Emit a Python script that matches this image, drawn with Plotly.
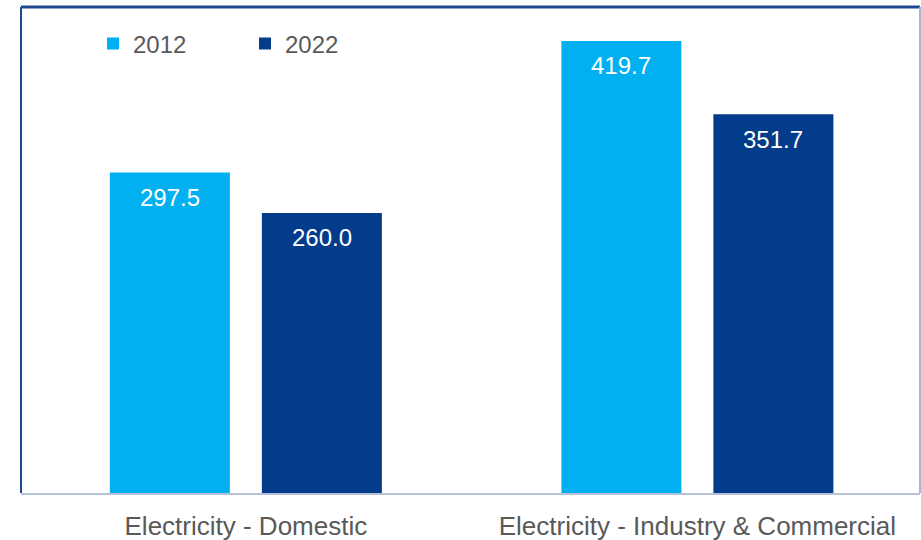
import plotly.graph_objects as go

categories = ["Electricity - Domestic", "Electricity - Industry & Commercial"]
years = ["2012", "2022"]
values_2012 = [297.5, 419.7]
values_2022 = [260.0, 351.7]

colors = {"2012": "#00B0F0", "2022": "#033C8A"}
series = {"2012": values_2012, "2022": values_2022}

fig = go.Figure()
for yr in years:
    fig.add_trace(go.Bar(
        name=yr, x=categories, y=series[yr],
        marker=dict(color=colors[yr], line=dict(width=0)),
    ))

# data labels (white, inside near top of each bar)
annotations = []
n = len(years)
for i, yr in enumerate(years):
    for j, cat in enumerate(categories):
        v = series[yr][j]
        annotations.append(dict(
            x=cat, y=v, xref="x", yref="y", text=f"{v:.1f}",
            showarrow=False, yanchor="middle", yshift=-25,
            xshift=(i - (n - 1) / 2) * 152,
            font=dict(family="Liberation Sans, Arial", size=24, color="white"),
        ))

shapes = [
    dict(type="line", xref="paper", yref="paper", x0=0, x1=0, y0=0, y1=1,
         line=dict(color="#1F4A92", width=2)),
    dict(type="line", xref="paper", yref="paper", x0=0, x1=1, y0=1, y1=1,
         line=dict(color="#1F4A92", width=3)),
    dict(type="line", xref="paper", yref="paper", x0=1, x1=1, y0=0, y1=1,
         line=dict(color="#A3B6D6", width=2)),
]

fig.update_layout(
    template="none",
    width=921, height=540,
    margin=dict(l=21, r=1, t=7, b=47, autoexpand=False),
    paper_bgcolor="white", plot_bgcolor="white",
    barmode="group", bargap=0.3267, bargroupgap=0.2105,
    font=dict(family="Liberation Sans, Arial", color="#595959"),
    showlegend=True,
    legend=dict(orientation="h", x=0.0801, xanchor="left", y=0.924, yanchor="middle",
                font=dict(size=24, color="#595959"), entrywidth=107,
                entrywidthmode="pixels", bgcolor="rgba(0,0,0,0)", borderwidth=0,
                traceorder="normal"),
    xaxis=dict(range=[-0.498, 1.493], showline=True, linecolor="#B4C1D6", linewidth=2,
               showgrid=False, zeroline=False, ticks="", ticklabelstandoff=9,
               tickfont=dict(size=26, color="#595959"), automargin=False),
    yaxis=dict(range=[0, 451.2], visible=False, showgrid=False, zeroline=False,
               automargin=False),
    annotations=annotations,
    shapes=shapes,
)

fig.write_html("out.html",
               config={"displayModeBar": False},
               post_script="document.body.style.margin='0';document.body.style.overflow='hidden';")
